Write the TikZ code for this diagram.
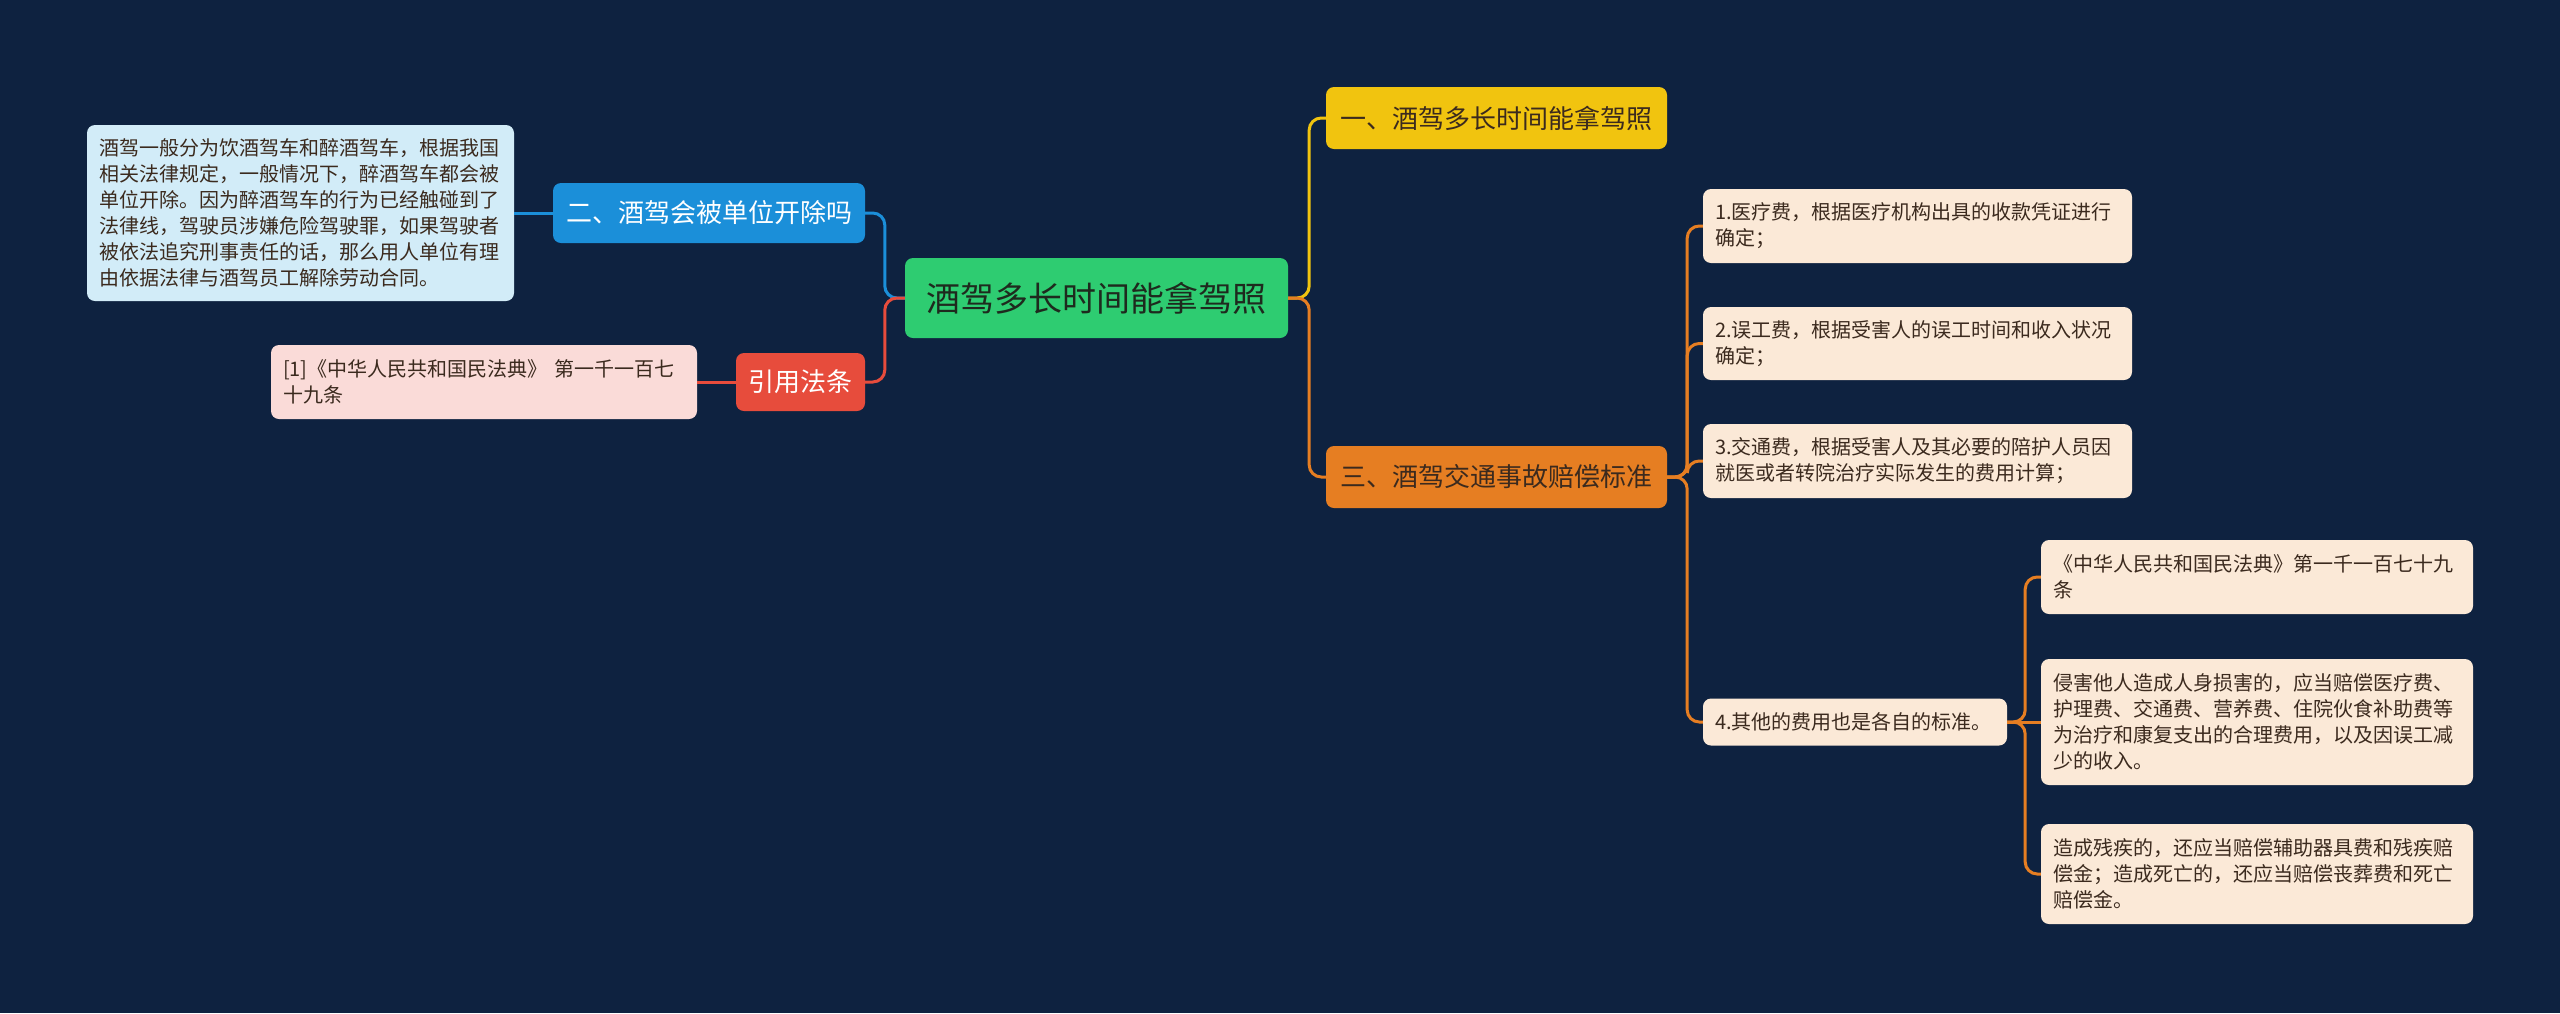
\documentclass[tikz,border=0pt]{standalone}
\usepackage{fontspec}
\setmainfont{Noto Sans CJK SC}
\usepackage{xcolor}
\usepackage{tikz}

\definecolor{bgnavy}{HTML}{0E2240}
\definecolor{rootgreen}{HTML}{2ECC71}
\definecolor{topicyellow}{HTML}{F1C40F}
\definecolor{topicblue}{HTML}{1B8FD9}
\definecolor{topicred}{HTML}{E74C3C}
\definecolor{topicorange}{HTML}{E67E22}
\definecolor{noteblue}{HTML}{D2ECF8}
\definecolor{notepink}{HTML}{FADBD8}
\definecolor{notecream}{HTML}{FBE9D7}
\definecolor{inkdark}{HTML}{1E2A1E}
\definecolor{inkbrown}{HTML}{3B2A1E}

\begin{document}
\begin{tikzpicture}[x=1pt,y=-1pt,
  topic/.style={rounded corners=8pt, inner sep=0pt, align=center, font=\fontsize{26}{32}\selectfont},
  note/.style={rounded corners=8pt, inner xsep=12pt, inner ysep=0pt, align=left, font=\fontsize{20}{26}\selectfont},
  link/.style={line width=3pt, rounded corners=12pt}]

\fill[bgnavy] (0,0) rectangle (2560,1013);
\useasboundingbox (0,0) rectangle (2560,1013);

% main topics
\node[topic, fill=rootgreen, text=inkdark, minimum width=383, minimum height=80, font=\fontsize{34}{40}\selectfont] (root) at (1096.5,298) {酒驾多长时间能拿驾照};
\node[topic, fill=topicyellow, text=inkbrown, minimum width=341, minimum height=62] (n1) at (1496.5,118) {一、酒驾多长时间能拿驾照};
\node[topic, fill=topicblue, text=white, minimum width=312, minimum height=60] (n2) at (709,213) {二、酒驾会被单位开除吗};
\node[topic, fill=topicorange, text=inkbrown, minimum width=341, minimum height=62] (n3) at (1496.5,477) {三、酒驾交通事故赔偿标准};
\node[topic, fill=topicred, text=white, minimum width=129, minimum height=58] (ref) at (800.5,382) {引用法条};

% left notes
\node[note, fill=noteblue, text=inkbrown, text width=403, minimum height=176] (txt2) at (300.5,213) {酒驾一般分为饮酒驾车和醉酒驾车，根据我国\\相关法律规定，一般情况下，醉酒驾车都会被\\单位开除。因为醉酒驾车的行为已经触碰到了\\法律线，驾驶员涉嫌危险驾驶罪，如果驾驶者\\被依法追究刑事责任的话，那么用人单位有理\\由依据法律与酒驾员工解除劳动合同。};
\node[note, fill=notepink, text=inkbrown, text width=402, minimum height=74] (txtref) at (484,382) {[1]《中华人民共和国民法典》 第一千一百七\\十九条};

% right notes
\node[note, fill=notecream, text=inkbrown, text width=405, minimum height=74] (c1) at (1917.5,226) {1.医疗费，根据医疗机构出具的收款凭证进行\\确定；};
\node[note, fill=notecream, text=inkbrown, text width=405, minimum height=73] (c2) at (1917.5,343.5) {2.误工费，根据受害人的误工时间和收入状况\\确定；};
\node[note, fill=notecream, text=inkbrown, text width=405, minimum height=74] (c3) at (1917.5,461) {3.交通费，根据受害人及其必要的陪护人员因\\就医或者转院治疗实际发生的费用计算；};
\node[note, fill=notecream, text=inkbrown, text width=280, minimum height=47] (c4) at (1855,722) {4.其他的费用也是各自的标准。};

\node[note, fill=notecream, text=inkbrown, text width=408, minimum height=74] (d1) at (2257,577) {《中华人民共和国民法典》第一千一百七十九\\条};
\node[note, fill=notecream, text=inkbrown, text width=408, minimum height=126] (d2) at (2257,722) {侵害他人造成人身损害的，应当赔偿医疗费、\\护理费、交通费、营养费、住院伙食补助费等\\为治疗和康复支出的合理费用，以及因误工减\\少的收入。};
\node[note, fill=notecream, text=inkbrown, text width=408, minimum height=100] (d3) at (2257,874) {造成残疾的，还应当赔偿辅助器具费和残疾赔\\偿金；造成死亡的，还应当赔偿丧葬费和死亡\\赔偿金。};

% connectors
\draw[link, topicyellow] (root.east) -- ++(21,0) |- (n1.west);
\draw[link, topicorange] (root.east) -- ++(21,0) |- (n3.west);
\draw[link, topicblue] (root.west) -- ++(-20,0) |- (n2.east);
\draw[link, topicred] (root.west) -- ++(-20,0) |- (ref.east);
\draw[link, topicblue] (n2.west) -- (txt2.east);
\draw[link, topicred] (ref.west) -- (txtref.east);
\foreach \c in {c1,c2,c3,c4}
  \draw[link, topicorange] (n3.east) -- ++(20,0) |- (\c.west);
\foreach \d in {d1,d3}
  \draw[link, topicorange] (c4.east) -- ++(18,0) |- (\d.west);
\draw[link, topicorange] (c4.east) -- (d2.west);

\end{tikzpicture}
\end{document}
